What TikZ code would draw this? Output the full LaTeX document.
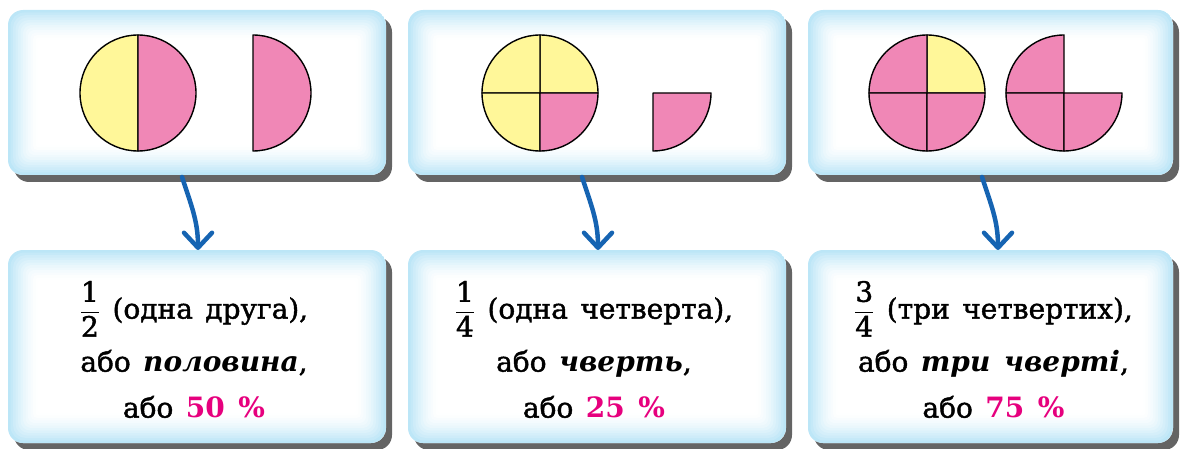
\documentclass[tikz,border=0pt]{standalone}
\usepackage{fontspec}
\usepackage{amsmath}
\setmainfont[WordSpace=1.4, UprightFeatures={FakeBold=1.5}]{DejaVu Serif}
\usetikzlibrary{positioning, arrows.meta, shadows, calc}

\definecolor{yelpart}{RGB}{255,247,153}
\definecolor{pinkpart}{RGB}{240,135,182}
\definecolor{accent}{RGB}{230,0,126}
\definecolor{arrowblue}{RGB}{22,100,178}
\definecolor{glowblue}{RGB}{188,230,247}
\definecolor{shadowgray}{RGB}{100,100,100}

% one piece of a pie: centre, start angle, end angle, colour
\newcommand{\sector}[4]{\filldraw[part, fill=#4] (#1) -- ++(#2:58) arc[start angle=#2, end angle=#3, radius=58] -- cycle;}

\begin{document}
\begin{tikzpicture}[x=1pt, y=1pt,
	panel/.style={rounded corners=15pt, minimum width=378pt, inner sep=0pt, outer sep=0pt, fill=white,
		drop shadow={shadow xshift=6pt, shadow yshift=-7pt, fill=shadowgray, opacity=1},
		path picture={
			\foreach \k in {0,...,12}{
				\pgfmathtruncatemacro{\mix}{100*(1-\k/12)^1.6}
				\pgfmathsetmacro{\rad}{max(15-\k*1.1,1)}
				\fill[glowblue!\mix!white, rounded corners=\rad pt]
				([shift={(\k*2.5,\k*2.5)}]path picture bounding box.south west) rectangle
				([shift={(-\k*2.5,-\k*2.5)}]path picture bounding box.north east);
			}}},
	toppanel/.style={panel, minimum height=165pt},
	botpanel/.style={panel, minimum height=193pt},
	part/.style={draw=black, line width=1.4pt, line join=round},
	flow/.style={-{Straight Barb[length=15pt, width=28pt, round]}, line width=4.5pt, draw=arrowblue, line cap=round},
	caption/.style={align=center, font=\fontsize{28}{46}\selectfont}]
	
	\useasboundingbox (0,0) rectangle (1181,448);
	
	% upper row: pictures
	\node[toppanel, anchor=north west] (top1) at (8,438) {};
	\node[toppanel, right=22pt of top1] (top2) {};
	\node[toppanel, minimum width=365pt, right=22pt of top2] (top3) {};
	
	% lower row: words
	\node[botpanel, anchor=north west] (bot1) at (8,198) {};
	\node[botpanel, right=22pt of bot1] (bot2) {};
	\node[botpanel, minimum width=365pt, right=22pt of bot2] (bot3) {};
	
	% one half
	\sector{138,355}{90}{270}{yelpart}
	\sector{138,355}{-90}{90}{pinkpart}
	\sector{253,355}{-90}{90}{pinkpart}
	
	% one quarter
	\sector{540,355}{0}{90}{yelpart}
	\sector{540,355}{90}{180}{yelpart}
	\sector{540,355}{180}{270}{yelpart}
	\sector{540,355}{270}{360}{pinkpart}
	\sector{653,355}{-90}{0}{pinkpart}
	
	% three quarters
	\sector{927,355}{0}{90}{yelpart}
	\sector{927,355}{90}{180}{pinkpart}
	\sector{927,355}{180}{270}{pinkpart}
	\sector{927,355}{270}{360}{pinkpart}
	\sector{1064,355}{90}{180}{pinkpart}
	\sector{1064,355}{180}{270}{pinkpart}
	\sector{1064,355}{270}{360}{pinkpart}
	
	\draw[flow] ([xshift=-15pt, yshift=-2pt]top1.south) to[out=-72, in=90] ([xshift=1pt]bot1.north);
	\draw[flow] ([xshift=-15pt, yshift=-2pt]top2.south) to[out=-72, in=90] ([xshift=1pt]bot2.north);
	\draw[flow] ([xshift=-8.5pt, yshift=-2pt]top3.south) to[out=-72, in=90] ([xshift=7.5pt]bot3.north);
	
	\node[caption] (txt1) at ([xshift=-3pt, yshift=-3pt]bot1.center)
	{$\dfrac{\text{1}}{\text{2}}$ (одна друга),\\[7pt] або \textbf{\textit{половина}},\\ або \textcolor{accent}{\textbf{50~\%}}};
	\node[caption] (txt2) at ([xshift=-3pt, yshift=-3pt]bot2.center)
	{$\dfrac{\text{1}}{\text{4}}$ (одна четверта),\\[7pt] або \textbf{\textit{чверть}},\\ або \textcolor{accent}{\textbf{25~\%}}};
	\node[caption] (txt3) at ([xshift=3pt, yshift=-3pt]bot3.center)
	{$\dfrac{\text{3}}{\text{4}}$ (три четвертих),\\[7pt] або \textbf{\textit{три чверті}},\\ або \textcolor{accent}{\textbf{75~\%}}};
\end{tikzpicture}
\end{document}
